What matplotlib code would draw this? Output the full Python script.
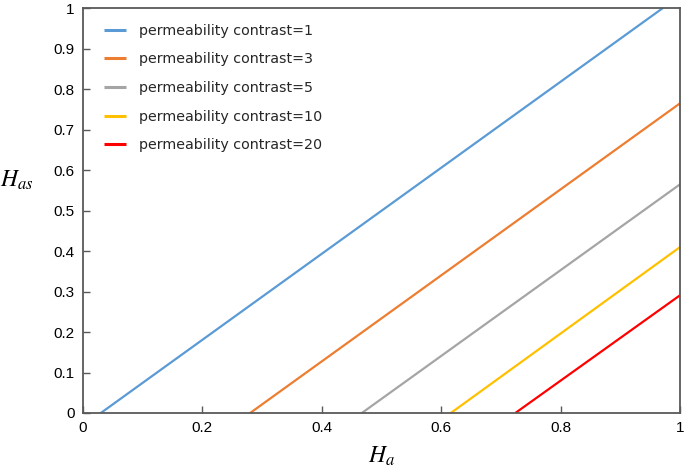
import matplotlib
matplotlib.use("Agg")
import matplotlib.pyplot as plt

contrasts = [1, 3, 5, 10, 20]
x_start = [0.03, 0.28, 0.467, 0.616, 0.724]
y_start = [0.0, 0.0, 0.0, 0.0, 0.0]
x_end = [0.971, 1.0, 1.0, 1.0, 1.0]
y_end = [1.0, 0.765, 0.565, 0.41, 0.291]
colors = ["#5B9BD5", "#ED7D31", "#A5A5A5", "#FFC000", "#FF0000"]
xticks = [0, 0.2, 0.4, 0.6, 0.8, 1]
xticklabels = ["0", "0.2", "0.4", "0.6", "0.8", "1"]
yticks = [0, 0.1, 0.2, 0.3, 0.4, 0.5, 0.6, 0.7, 0.8, 0.9, 1]
yticklabels = ["0", "0.1", "0.2", "0.3", "0.4", "0.5", "0.6", "0.7", "0.8", "0.9", "1"]

plt.rcParams["mathtext.fontset"] = "stix"
fig = plt.figure(figsize=(6.85, 4.72), dpi=100)
ax = fig.add_axes([0.121, 0.125, 0.872, 0.858])

for c, xs, ys, xe, ye, col in zip(contrasts, x_start, y_start, x_end, y_end, colors):
    ax.plot([xs, xe], [ys, ye], color=col, lw=1.6,
            label=f"permeability contrast={c}", solid_capstyle="butt")

ax.set_xlim(0, 1)
ax.set_ylim(0, 1)
ax.set_xticks(xticks)
ax.set_xticklabels(xticklabels, fontfamily="Liberation Sans", fontsize=11)
ax.set_yticks(yticks)
ax.set_yticklabels(yticklabels, fontfamily="Liberation Sans", fontsize=11)
ax.tick_params(direction="in", length=5, width=1, color="#595959", pad=6)
for s in ax.spines.values():
    s.set_color("#595959")
    s.set_linewidth(1.3)

ax.set_xlabel(r"$H_a$", fontsize=17, labelpad=6)
ax.set_ylabel(r"$H_{as}$", fontsize=17, rotation=0, labelpad=18)
ax.yaxis.set_label_coords(-0.11, 0.545)

leg = ax.legend(loc="upper left", frameon=False, handlelength=1.6,
                prop={"family": "DejaVu Sans", "size": 10.3},
                labelspacing=1.02, borderaxespad=0.0, handletextpad=0.9,
                bbox_to_anchor=(0.025, 0.975))
for t in leg.get_texts():
    t.set_color("#262626")
for h in leg.get_lines():
    h.set_linewidth(2.2)

fig.savefig("out.png", dpi=100)
